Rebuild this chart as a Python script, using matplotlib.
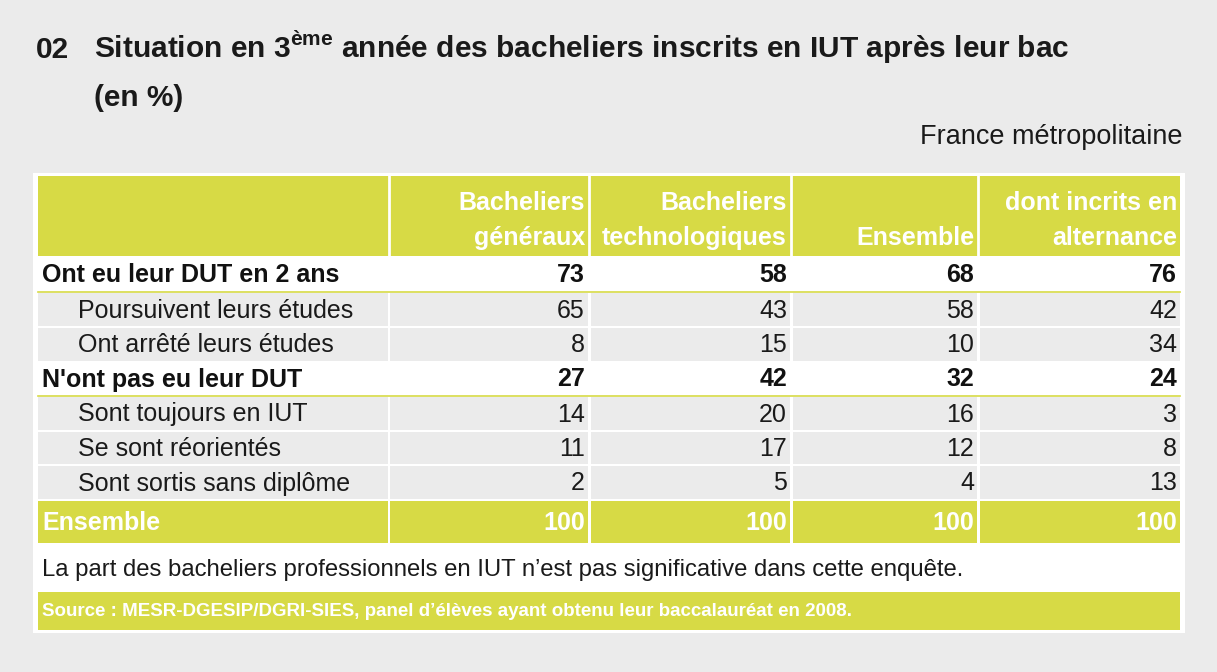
import matplotlib.pyplot as plt
from matplotlib.patches import Rectangle

plt.rcParams['font.family'] = ['Liberation Sans Narrow', 'Liberation Sans', 'DejaVu Sans']

# data
columns = ['Bacheliers\ngénéraux', 'Bacheliers\ntechnologiques', 'Ensemble', 'dont incrits en\nalternance']
row_labels = ['Ont eu leur DUT en 2 ans', 'Poursuivent leurs études', 'Ont arrêté leurs études',
              "N'ont pas eu leur DUT", 'Sont toujours en IUT', 'Se sont réorientés',
              'Sont sortis sans diplôme', 'Ensemble']
row_kind = ['main', 'sub', 'sub', 'main', 'sub', 'sub', 'sub', 'total']
generaux = [73, 65, 8, 27, 14, 11, 2, 100]
techno = [58, 43, 15, 42, 20, 17, 5, 100]
ensemble = [68, 58, 10, 32, 16, 12, 4, 100]
alternance = [76, 42, 34, 24, 3, 8, 13, 100]
values = [generaux, techno, ensemble, alternance]

YELLOW = '#d7da45'
GREY = '#ebebeb'
BG = '#ebebeb'

fig = plt.figure(figsize=(12.17, 6.72), dpi=100, facecolor=BG)
ax = fig.add_axes([0, 0, 1, 1])
ax.set_xlim(0, 1217)
ax.set_ylim(672, 0)
ax.axis('off')

def box(x0, y0, x1, y1, c):
    ax.add_patch(Rectangle((x0, y0), x1 - x0, y1 - y0, facecolor=c, edgecolor='none'))

ax.text(36, 58, '02', fontsize=21.5, fontweight='bold', va='baseline', color='#1a1a1a')
ax.text(94, 58, 'Situation en 3$^{\\mathregular{ème}}$ année des bacheliers inscrits en IUT après leur bac',
        fontsize=21.5, fontweight='bold', va='baseline', color='#1a1a1a')
ax.text(94, 106, '(en %)', fontsize=21.5, fontweight='bold', va='baseline', color='#1a1a1a')
ax.text(1183, 137, 'France métropolitaine', fontsize=19.5, ha='right', va='center', color='#1a1a1a')

box(33, 173, 1185, 633, 'white')
col_x = [(38, 388), (390, 588), (591, 790), (793, 977), (980, 1180)]
box(38, 176, 1180, 256, YELLOW)
for x0, x1 in col_x[:-1]:
    ax.plot([x1 + 1, x1 + 1], [176, 256], color='white', lw=2)
for (x0, x1), name in zip(col_x[1:], columns):
    ax.text(x1 - 3, 250, name, fontsize=18, fontweight='bold', color='white',
            ha='right', va='bottom', linespacing=1.6)

row_y = [(258, 291), (293, 326), (328, 361), (362, 395), (397, 430), (432, 464), (466, 499), (501, 543)]
for i, ((y0, y1), label, kind) in enumerate(zip(row_y, row_labels, row_kind)):
    if kind == 'sub':
        for x0, x1 in col_x:
            box(x0, y0, x1, y1, GREY)
        weight, color, lx = 'normal', '#1a1a1a', 78
    elif kind == 'total':
        for x0, x1 in col_x:
            box(x0, y0, x1, y1, YELLOW)
        weight, color, lx = 'bold', 'white', 42
    else:
        ax.plot([38, 1180], [y1 + 1, y1 + 1], color=YELLOW, lw=1.2)
        weight, color, lx = 'bold', '#111111', 42
    yc = (y0 + y1) / 2 + 1
    ax.text(lx, yc, label, fontsize=18, fontweight=weight, color=color, va='center')
    for (x0, x1), vals in zip(col_x[1:], values):
        ax.text(x1 - 3, yc, str(vals[i]), fontsize=18, fontweight=weight, color=color,
                ha='right', va='center')

ax.text(42, 570, "La part des bacheliers professionnels en IUT n’est pas significative dans cette enquête.",
        fontsize=17.2, va='center', color='#1a1a1a')
box(38, 592, 1180, 630, YELLOW)
ax.text(42, 611, "Source : MESR-DGESIP/DGRI-SIES, panel d’élèves ayant obtenu leur baccalauréat en 2008.",
        fontsize=13.5, fontweight='bold', va='center', color='white')

fig.savefig('out.png', dpi=100, facecolor=BG)
